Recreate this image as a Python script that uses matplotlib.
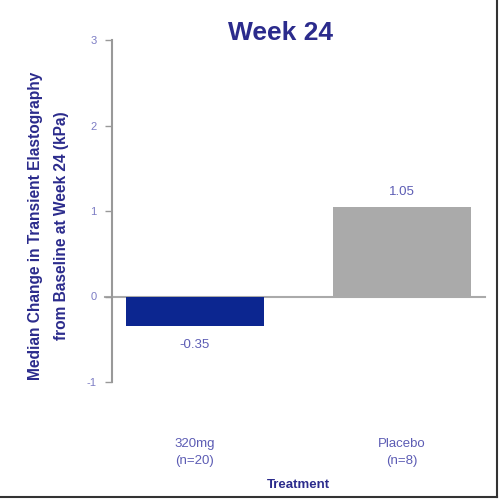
import matplotlib
matplotlib.use("Agg")
import matplotlib.pyplot as plt
from matplotlib.lines import Line2D

plt.rcParams['font.family'] = ['Liberation Sans', 'DejaVu Sans']

# data
treatments = ["320mg\n(n=20)", "Placebo\n(n=8)"]
median_change = [-0.35, 1.05]
value_labels = ["-0.35", "1.05"]
bar_colors = ["#0c2690", "#aaaaaa"]
y_ticks = [-1, 0, 1, 2, 3]

navy = "#2b2b8c"
tick_col = "#7c7cc4"
val_col = "#5c5cb4"

fig = plt.figure(figsize=(5, 5), dpi=100)
ax = fig.add_axes([0.224, 0.236, 0.746, 0.684])

x = range(len(treatments))
ax.bar(x, median_change, width=0.667, color=bar_colors, zorder=2)
ax.axhline(0, color="#aaaaaa", linewidth=1.5, zorder=1, xmin=-0.02, clip_on=False)

for xi, v, lab in zip(x, median_change, value_labels):
    if v < 0:
        ax.text(xi, v - 0.15, lab, ha="center", va="top", color=val_col, fontsize=9.5)
    else:
        ax.text(xi, v + 0.1, lab, ha="center", va="bottom", color=val_col, fontsize=9.5)

ax.set_xlim(-0.4, 1.4)
ax.set_ylim(-1, 3)
ax.set_yticks(y_ticks)
ax.set_yticklabels([str(t) for t in y_ticks])
ax.set_xticks(list(x))
ax.set_xticklabels(treatments, color=val_col, fontsize=9.5, linespacing=1.55)
ax.tick_params(axis="x", length=0, pad=40)
ax.tick_params(axis="y", length=5, width=1, color="#999999", labelcolor=tick_col, labelsize=8, pad=6)

for s in ["top", "right", "bottom"]:
    ax.spines[s].set_visible(False)
ax.spines["left"].set_color("#999999")
ax.spines["left"].set_linewidth(1.5)

ax.set_xlabel("Treatment", color=navy, fontsize=9.5, fontweight="bold", labelpad=9)

fig.text(0.56, 0.935, "Week 24", ha="center", va="center", color=navy,
         fontsize=19, fontweight="bold")
fig.text(0.097, 0.548, "Median Change in Transient Elastography\nfrom Baseline at Week 24 (kPa)",
         ha="center", va="center", rotation=90, color=navy, fontsize=11.2,
         fontweight="bold", linespacing=1.9)

# frame on right and bottom edge
fig.add_artist(Line2D([0.994, 0.994], [0.006, 1.0], transform=fig.transFigure, color="#333333", linewidth=1.5))
fig.add_artist(Line2D([0.0, 0.994], [0.006, 0.006], transform=fig.transFigure, color="#333333", linewidth=1.5))

fig.savefig("out.png", dpi=100, facecolor="white")
